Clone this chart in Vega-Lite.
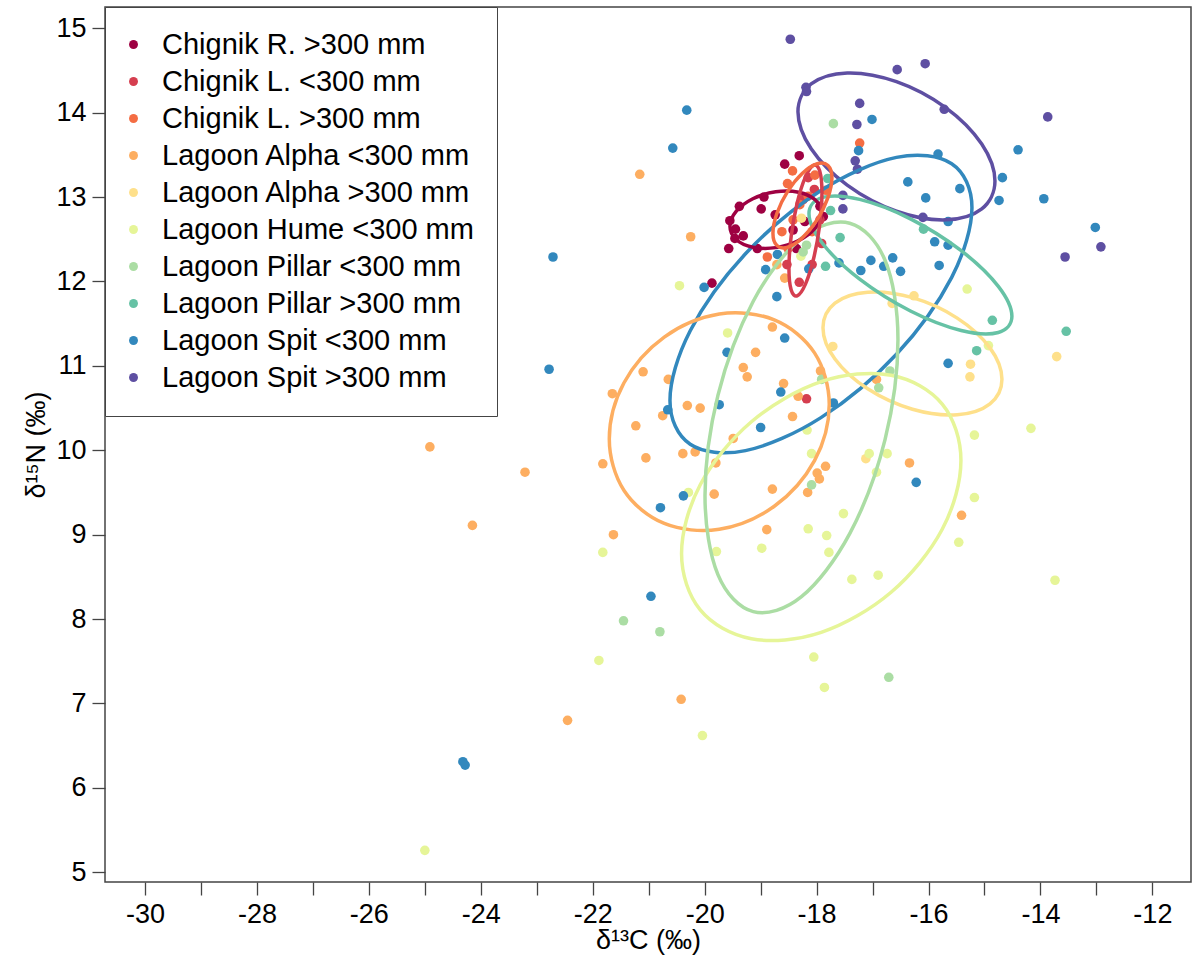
{
  "$schema": "https://vega.github.io/schema/vega-lite/v6.json",
  "autosize": "none",
  "width": 1086,
  "height": 875,
  "padding": {"left": 105, "top": 7, "right": 2, "bottom": 77},
  "background": "white",
  "config": {
    "view": {"stroke": "#444", "strokeWidth": 1.5},
    "font": "Liberation Sans",
    "axis": {"grid": false, "domain": false, "tickColor": "#444", "tickWidth": 1.3, "tickSize": 13, "labelFont": "Liberation Sans", "labelFontSize": 27, "labelColor": "black", "labelPadding": 6, "titleFont": "Liberation Sans", "titleFontSize": 27, "titleFontWeight": "normal", "titleColor": "black"},
    "legend": {"labelFont": "Liberation Sans", "labelFontSize": 29, "labelColor": "black"}
  },
  "datasets": {
    "pts": [
      {"g":"Chignik R. >300 mm","x":-18.31,"y":13.49},{"g":"Chignik R. >300 mm","x":-18.57,"y":13.39},{"g":"Chignik R. >300 mm","x":-18.94,"y":13.00},{"g":"Chignik R. >300 mm","x":-19.38,"y":12.89},{"g":"Chignik R. >300 mm","x":-18.99,"y":12.86},{"g":"Chignik R. >300 mm","x":-19.55,"y":12.72},{"g":"Chignik R. >300 mm","x":-19.45,"y":12.62},{"g":"Chignik R. >300 mm","x":-19.31,"y":12.54},{"g":"Chignik R. >300 mm","x":-19.46,"y":12.51},{"g":"Chignik R. >300 mm","x":-19.57,"y":12.39},{"g":"Chignik R. >300 mm","x":-19.06,"y":12.39},{"g":"Chignik R. >300 mm","x":-18.42,"y":12.61},{"g":"Chignik R. >300 mm","x":-18.36,"y":12.39},{"g":"Chignik R. >300 mm","x":-17.94,"y":12.89},{"g":"Chignik R. >300 mm","x":-17.88,"y":12.77},{"g":"Chignik R. >300 mm","x":-19.87,"y":11.98},{"g":"Chignik R. >300 mm","x":-18.74,"y":12.79},{"g":"Chignik R. >300 mm","x":-18.21,"y":12.71},
      {"g":"Chignik L. <300 mm","x":-18.04,"y":13.09},{"g":"Chignik L. <300 mm","x":-17.94,"y":12.73},{"g":"Chignik L. <300 mm","x":-17.91,"y":12.45},{"g":"Chignik L. <300 mm","x":-18.53,"y":12.20},{"g":"Chignik L. <300 mm","x":-18.18,"y":10.61},{"g":"Chignik L. <300 mm","x":-18.24,"y":12.97},{"g":"Chignik L. <300 mm","x":-18.08,"y":12.20},{"g":"Chignik L. <300 mm","x":-18.31,"y":11.99},{"g":"Chignik L. <300 mm","x":-18.15,"y":13.23},
      {"g":"Chignik L. >300 mm","x":-17.23,"y":13.64},{"g":"Chignik L. >300 mm","x":-18.43,"y":13.31},{"g":"Chignik L. >300 mm","x":-18.52,"y":13.16},{"g":"Chignik L. >300 mm","x":-18.03,"y":13.26},{"g":"Chignik L. >300 mm","x":-18.15,"y":13.01},{"g":"Chignik L. >300 mm","x":-18.42,"y":12.73},{"g":"Chignik L. >300 mm","x":-18.62,"y":12.59},{"g":"Chignik L. >300 mm","x":-18.51,"y":12.39},{"g":"Chignik L. >300 mm","x":-18.88,"y":12.29},{"g":"Chignik L. >300 mm","x":-17.83,"y":13.08},{"g":"Chignik L. >300 mm","x":-18.08,"y":12.59},{"g":"Chignik L. >300 mm","x":-18.30,"y":12.91},
      {"g":"Lagoon Alpha <300 mm","x":-21.16,"y":13.27},{"g":"Lagoon Alpha <300 mm","x":-20.25,"y":12.53},{"g":"Lagoon Alpha <300 mm","x":-18.71,"y":12.20},{"g":"Lagoon Alpha <300 mm","x":-18.57,"y":12.04},{"g":"Lagoon Alpha <300 mm","x":-18.79,"y":11.46},{"g":"Lagoon Alpha <300 mm","x":-19.09,"y":11.16},{"g":"Lagoon Alpha <300 mm","x":-19.31,"y":10.98},{"g":"Lagoon Alpha <300 mm","x":-19.24,"y":10.87},{"g":"Lagoon Alpha <300 mm","x":-21.10,"y":10.93},{"g":"Lagoon Alpha <300 mm","x":-20.65,"y":10.84},{"g":"Lagoon Alpha <300 mm","x":-21.65,"y":10.67},{"g":"Lagoon Alpha <300 mm","x":-18.59,"y":10.79},{"g":"Lagoon Alpha <300 mm","x":-18.33,"y":10.64},{"g":"Lagoon Alpha <300 mm","x":-17.93,"y":10.94},{"g":"Lagoon Alpha <300 mm","x":-16.93,"y":10.84},{"g":"Lagoon Alpha <300 mm","x":-20.31,"y":10.53},{"g":"Lagoon Alpha <300 mm","x":-20.08,"y":10.50},{"g":"Lagoon Alpha <300 mm","x":-20.75,"y":10.41},{"g":"Lagoon Alpha <300 mm","x":-21.23,"y":10.29},{"g":"Lagoon Alpha <300 mm","x":-18.43,"y":10.40},{"g":"Lagoon Alpha <300 mm","x":-19.49,"y":10.14},{"g":"Lagoon Alpha <300 mm","x":-21.05,"y":9.91},{"g":"Lagoon Alpha <300 mm","x":-20.39,"y":9.96},{"g":"Lagoon Alpha <300 mm","x":-20.17,"y":9.98},{"g":"Lagoon Alpha <300 mm","x":-21.82,"y":9.84},{"g":"Lagoon Alpha <300 mm","x":-19.80,"y":9.85},{"g":"Lagoon Alpha <300 mm","x":-16.34,"y":9.85},{"g":"Lagoon Alpha <300 mm","x":-17.84,"y":9.81},{"g":"Lagoon Alpha <300 mm","x":-17.99,"y":9.73},{"g":"Lagoon Alpha <300 mm","x":-17.95,"y":9.66},{"g":"Lagoon Alpha <300 mm","x":-18.16,"y":9.50},{"g":"Lagoon Alpha <300 mm","x":-18.79,"y":9.54},{"g":"Lagoon Alpha <300 mm","x":-19.83,"y":9.48},{"g":"Lagoon Alpha <300 mm","x":-18.89,"y":9.06},{"g":"Lagoon Alpha <300 mm","x":-15.41,"y":9.23},{"g":"Lagoon Alpha <300 mm","x":-21.63,"y":9.00},{"g":"Lagoon Alpha <300 mm","x":-24.91,"y":10.04},{"g":"Lagoon Alpha <300 mm","x":-23.21,"y":9.74},{"g":"Lagoon Alpha <300 mm","x":-24.15,"y":9.11},{"g":"Lagoon Alpha <300 mm","x":-20.42,"y":7.05},{"g":"Lagoon Alpha <300 mm","x":-22.45,"y":6.80},
      {"g":"Lagoon Alpha >300 mm","x":-17.71,"y":11.23},{"g":"Lagoon Alpha >300 mm","x":-15.25,"y":11.02},{"g":"Lagoon Alpha >300 mm","x":-15.26,"y":10.87},{"g":"Lagoon Alpha >300 mm","x":-13.71,"y":11.11},{"g":"Lagoon Alpha >300 mm","x":-17.12,"y":9.90},{"g":"Lagoon Alpha >300 mm","x":-18.27,"y":12.75},{"g":"Lagoon Alpha >300 mm","x":-16.65,"y":11.74},{"g":"Lagoon Alpha >300 mm","x":-16.26,"y":11.83},
      {"g":"Lagoon Hume <300 mm","x":-20.45,"y":11.95},{"g":"Lagoon Hume <300 mm","x":-19.59,"y":11.39},{"g":"Lagoon Hume <300 mm","x":-18.17,"y":10.24},{"g":"Lagoon Hume <300 mm","x":-18.09,"y":9.96},{"g":"Lagoon Hume <300 mm","x":-17.06,"y":9.96},{"g":"Lagoon Hume <300 mm","x":-16.74,"y":9.96},{"g":"Lagoon Hume <300 mm","x":-16.93,"y":9.74},{"g":"Lagoon Hume <300 mm","x":-15.18,"y":10.18},{"g":"Lagoon Hume <300 mm","x":-15.18,"y":9.44},{"g":"Lagoon Hume <300 mm","x":-15.31,"y":11.91},{"g":"Lagoon Hume <300 mm","x":-14.93,"y":11.24},{"g":"Lagoon Hume <300 mm","x":-14.17,"y":10.26},{"g":"Lagoon Hume <300 mm","x":-15.46,"y":8.91},{"g":"Lagoon Hume <300 mm","x":-13.74,"y":8.46},{"g":"Lagoon Hume <300 mm","x":-17.52,"y":9.25},{"g":"Lagoon Hume <300 mm","x":-18.15,"y":9.07},{"g":"Lagoon Hume <300 mm","x":-17.82,"y":8.99},{"g":"Lagoon Hume <300 mm","x":-17.78,"y":8.79},{"g":"Lagoon Hume <300 mm","x":-18.98,"y":8.84},{"g":"Lagoon Hume <300 mm","x":-19.79,"y":8.80},{"g":"Lagoon Hume <300 mm","x":-17.37,"y":8.47},{"g":"Lagoon Hume <300 mm","x":-16.90,"y":8.52},{"g":"Lagoon Hume <300 mm","x":-21.82,"y":8.79},{"g":"Lagoon Hume <300 mm","x":-21.89,"y":7.51},{"g":"Lagoon Hume <300 mm","x":-18.05,"y":7.55},{"g":"Lagoon Hume <300 mm","x":-17.86,"y":7.19},{"g":"Lagoon Hume <300 mm","x":-20.04,"y":6.62},{"g":"Lagoon Hume <300 mm","x":-25.00,"y":5.26},{"g":"Lagoon Hume <300 mm","x":-20.29,"y":9.50},{"g":"Lagoon Hume <300 mm","x":-18.28,"y":12.30},
      {"g":"Lagoon Pillar <300 mm","x":-17.70,"y":13.87},{"g":"Lagoon Pillar <300 mm","x":-17.91,"y":10.84},{"g":"Lagoon Pillar <300 mm","x":-16.89,"y":10.74},{"g":"Lagoon Pillar <300 mm","x":-16.69,"y":10.94},{"g":"Lagoon Pillar <300 mm","x":-18.09,"y":9.59},{"g":"Lagoon Pillar <300 mm","x":-21.45,"y":7.98},{"g":"Lagoon Pillar <300 mm","x":-20.80,"y":7.85},{"g":"Lagoon Pillar <300 mm","x":-16.71,"y":7.31},{"g":"Lagoon Pillar <300 mm","x":-18.18,"y":12.43},{"g":"Lagoon Pillar <300 mm","x":-18.24,"y":12.35},
      {"g":"Lagoon Pillar >300 mm","x":-17.75,"y":12.84},{"g":"Lagoon Pillar >300 mm","x":-17.58,"y":12.52},{"g":"Lagoon Pillar >300 mm","x":-17.84,"y":12.18},{"g":"Lagoon Pillar >300 mm","x":-16.09,"y":12.62},{"g":"Lagoon Pillar >300 mm","x":-14.86,"y":11.54},{"g":"Lagoon Pillar >300 mm","x":-13.54,"y":11.41},{"g":"Lagoon Pillar >300 mm","x":-15.14,"y":11.18},{"g":"Lagoon Pillar >300 mm","x":-17.80,"y":13.22},
      {"g":"Lagoon Spit <300 mm","x":-20.32,"y":14.03},{"g":"Lagoon Spit <300 mm","x":-17.01,"y":13.92},{"g":"Lagoon Spit <300 mm","x":-20.57,"y":13.58},{"g":"Lagoon Spit <300 mm","x":-17.25,"y":13.55},{"g":"Lagoon Spit <300 mm","x":-15.83,"y":13.51},{"g":"Lagoon Spit <300 mm","x":-14.40,"y":13.56},{"g":"Lagoon Spit <300 mm","x":-16.37,"y":13.18},{"g":"Lagoon Spit <300 mm","x":-14.68,"y":13.23},{"g":"Lagoon Spit <300 mm","x":-15.44,"y":13.10},{"g":"Lagoon Spit <300 mm","x":-16.05,"y":12.99},{"g":"Lagoon Spit <300 mm","x":-14.74,"y":12.96},{"g":"Lagoon Spit <300 mm","x":-13.94,"y":12.98},{"g":"Lagoon Spit <300 mm","x":-15.65,"y":12.71},{"g":"Lagoon Spit <300 mm","x":-15.89,"y":12.47},{"g":"Lagoon Spit <300 mm","x":-15.65,"y":12.43},{"g":"Lagoon Spit <300 mm","x":-15.81,"y":12.19},{"g":"Lagoon Spit <300 mm","x":-13.02,"y":12.64},{"g":"Lagoon Spit <300 mm","x":-17.03,"y":12.25},{"g":"Lagoon Spit <300 mm","x":-16.80,"y":12.18},{"g":"Lagoon Spit <300 mm","x":-16.64,"y":12.28},{"g":"Lagoon Spit <300 mm","x":-17.21,"y":12.13},{"g":"Lagoon Spit <300 mm","x":-16.50,"y":12.12},{"g":"Lagoon Spit <300 mm","x":-17.60,"y":12.22},{"g":"Lagoon Spit <300 mm","x":-18.14,"y":12.15},{"g":"Lagoon Spit <300 mm","x":-18.70,"y":12.32},{"g":"Lagoon Spit <300 mm","x":-18.91,"y":12.14},{"g":"Lagoon Spit <300 mm","x":-18.71,"y":11.82},{"g":"Lagoon Spit <300 mm","x":-20.01,"y":11.93},{"g":"Lagoon Spit <300 mm","x":-22.71,"y":12.29},{"g":"Lagoon Spit <300 mm","x":-22.78,"y":10.96},{"g":"Lagoon Spit <300 mm","x":-18.57,"y":11.33},{"g":"Lagoon Spit <300 mm","x":-19.60,"y":11.16},{"g":"Lagoon Spit <300 mm","x":-18.64,"y":10.69},{"g":"Lagoon Spit <300 mm","x":-17.70,"y":10.56},{"g":"Lagoon Spit <300 mm","x":-20.66,"y":10.48},{"g":"Lagoon Spit <300 mm","x":-19.74,"y":10.54},{"g":"Lagoon Spit <300 mm","x":-19.00,"y":10.27},{"g":"Lagoon Spit <300 mm","x":-15.65,"y":11.03},{"g":"Lagoon Spit <300 mm","x":-16.22,"y":9.62},{"g":"Lagoon Spit <300 mm","x":-20.38,"y":9.46},{"g":"Lagoon Spit <300 mm","x":-20.79,"y":9.32},{"g":"Lagoon Spit <300 mm","x":-20.96,"y":8.27},{"g":"Lagoon Spit <300 mm","x":-24.32,"y":6.31},{"g":"Lagoon Spit <300 mm","x":-24.28,"y":6.27},
      {"g":"Lagoon Spit >300 mm","x":-18.47,"y":14.87},{"g":"Lagoon Spit >300 mm","x":-16.56,"y":14.51},{"g":"Lagoon Spit >300 mm","x":-16.06,"y":14.58},{"g":"Lagoon Spit >300 mm","x":-18.19,"y":14.30},{"g":"Lagoon Spit >300 mm","x":-18.18,"y":14.25},{"g":"Lagoon Spit >300 mm","x":-17.23,"y":14.11},{"g":"Lagoon Spit >300 mm","x":-15.72,"y":14.04},{"g":"Lagoon Spit >300 mm","x":-17.28,"y":13.86},{"g":"Lagoon Spit >300 mm","x":-17.31,"y":13.43},{"g":"Lagoon Spit >300 mm","x":-17.27,"y":13.33},{"g":"Lagoon Spit >300 mm","x":-13.87,"y":13.95},{"g":"Lagoon Spit >300 mm","x":-17.53,"y":13.02},{"g":"Lagoon Spit >300 mm","x":-17.53,"y":12.86},{"g":"Lagoon Spit >300 mm","x":-16.10,"y":12.76},{"g":"Lagoon Spit >300 mm","x":-12.92,"y":12.41},{"g":"Lagoon Spit >300 mm","x":-13.56,"y":12.29}
    ],
    "ell": [
      {"g":"Lagoon Spit >300 mm","i":0,"x":-14.813,"y":13.189},{"g":"Lagoon Spit >300 mm","i":1,"x":-15.049,"y":13.628},{"g":"Lagoon Spit >300 mm","i":2,"x":-15.693,"y":14.060},{"g":"Lagoon Spit >300 mm","i":3,"x":-16.573,"y":14.368},{"g":"Lagoon Spit >300 mm","i":4,"x":-17.453,"y":14.471},{"g":"Lagoon Spit >300 mm","i":5,"x":-18.097,"y":14.340},{"g":"Lagoon Spit >300 mm","i":6,"x":-18.333,"y":14.011},{"g":"Lagoon Spit >300 mm","i":7,"x":-18.097,"y":13.572},{"g":"Lagoon Spit >300 mm","i":8,"x":-17.453,"y":13.141},{"g":"Lagoon Spit >300 mm","i":9,"x":-16.573,"y":12.832},{"g":"Lagoon Spit >300 mm","i":10,"x":-15.693,"y":12.730},{"g":"Lagoon Spit >300 mm","i":11,"x":-15.049,"y":12.860},
      {"g":"Lagoon Spit <300 mm","i":0,"x":-15.224,"y":12.875},{"g":"Lagoon Spit <300 mm","i":1,"x":-15.586,"y":13.395},{"g":"Lagoon Spit <300 mm","i":2,"x":-16.573,"y":13.470},{"g":"Lagoon Spit <300 mm","i":3,"x":-17.922,"y":13.079},{"g":"Lagoon Spit <300 mm","i":4,"x":-19.271,"y":12.328},{"g":"Lagoon Spit <300 mm","i":5,"x":-20.258,"y":11.417},{"g":"Lagoon Spit <300 mm","i":6,"x":-20.620,"y":10.591},{"g":"Lagoon Spit <300 mm","i":7,"x":-20.258,"y":10.071},{"g":"Lagoon Spit <300 mm","i":8,"x":-19.271,"y":9.996},{"g":"Lagoon Spit <300 mm","i":9,"x":-17.922,"y":10.387},{"g":"Lagoon Spit <300 mm","i":10,"x":-16.573,"y":11.138},{"g":"Lagoon Spit <300 mm","i":11,"x":-15.586,"y":12.049},
      {"g":"Lagoon Alpha <300 mm","i":0,"x":-17.774,"y":10.543},{"g":"Lagoon Alpha <300 mm","i":1,"x":-18.037,"y":11.154},{"g":"Lagoon Alpha <300 mm","i":2,"x":-18.756,"y":11.545},{"g":"Lagoon Alpha <300 mm","i":3,"x":-19.739,"y":11.614},{"g":"Lagoon Alpha <300 mm","i":4,"x":-20.722,"y":11.341},{"g":"Lagoon Alpha <300 mm","i":5,"x":-21.441,"y":10.800},{"g":"Lagoon Alpha <300 mm","i":6,"x":-21.704,"y":10.135},{"g":"Lagoon Alpha <300 mm","i":7,"x":-21.441,"y":9.524},{"g":"Lagoon Alpha <300 mm","i":8,"x":-20.722,"y":9.133},{"g":"Lagoon Alpha <300 mm","i":9,"x":-19.739,"y":9.064},{"g":"Lagoon Alpha <300 mm","i":10,"x":-18.756,"y":9.337},{"g":"Lagoon Alpha <300 mm","i":11,"x":-18.037,"y":9.878},
      {"g":"Lagoon Alpha >300 mm","i":0,"x":-14.688,"y":10.841},{"g":"Lagoon Alpha >300 mm","i":1,"x":-14.902,"y":11.213},{"g":"Lagoon Alpha >300 mm","i":2,"x":-15.487,"y":11.566},{"g":"Lagoon Alpha >300 mm","i":3,"x":-16.287,"y":11.808},{"g":"Lagoon Alpha >300 mm","i":4,"x":-17.087,"y":11.872},{"g":"Lagoon Alpha >300 mm","i":5,"x":-17.672,"y":11.743},{"g":"Lagoon Alpha >300 mm","i":6,"x":-17.886,"y":11.453},{"g":"Lagoon Alpha >300 mm","i":7,"x":-17.672,"y":11.081},{"g":"Lagoon Alpha >300 mm","i":8,"x":-17.087,"y":10.728},{"g":"Lagoon Alpha >300 mm","i":9,"x":-16.287,"y":10.486},{"g":"Lagoon Alpha >300 mm","i":10,"x":-15.487,"y":10.422},{"g":"Lagoon Alpha >300 mm","i":11,"x":-14.902,"y":10.551},
      {"g":"Lagoon Hume <300 mm","i":0,"x":-15.421,"y":9.880},{"g":"Lagoon Hume <300 mm","i":1,"x":-15.755,"y":10.548},{"g":"Lagoon Hume <300 mm","i":2,"x":-16.669,"y":10.890},{"g":"Lagoon Hume <300 mm","i":3,"x":-17.917,"y":10.813},{"g":"Lagoon Hume <300 mm","i":4,"x":-19.165,"y":10.338},{"g":"Lagoon Hume <300 mm","i":5,"x":-20.079,"y":9.592},{"g":"Lagoon Hume <300 mm","i":6,"x":-20.413,"y":8.776},{"g":"Lagoon Hume <300 mm","i":7,"x":-20.079,"y":8.108},{"g":"Lagoon Hume <300 mm","i":8,"x":-19.165,"y":7.766},{"g":"Lagoon Hume <300 mm","i":9,"x":-17.917,"y":7.843},{"g":"Lagoon Hume <300 mm","i":10,"x":-16.669,"y":8.318},{"g":"Lagoon Hume <300 mm","i":11,"x":-15.755,"y":9.064},
      {"g":"Lagoon Pillar <300 mm","i":0,"x":-16.546,"y":11.313},{"g":"Lagoon Pillar <300 mm","i":1,"x":-16.777,"y":12.251},{"g":"Lagoon Pillar <300 mm","i":2,"x":-17.408,"y":12.690},{"g":"Lagoon Pillar <300 mm","i":3,"x":-18.270,"y":12.513},{"g":"Lagoon Pillar <300 mm","i":4,"x":-19.132,"y":11.766},{"g":"Lagoon Pillar <300 mm","i":5,"x":-19.763,"y":10.651},{"g":"Lagoon Pillar <300 mm","i":6,"x":-19.994,"y":9.465},{"g":"Lagoon Pillar <300 mm","i":7,"x":-19.763,"y":8.527},{"g":"Lagoon Pillar <300 mm","i":8,"x":-19.132,"y":8.088},{"g":"Lagoon Pillar <300 mm","i":9,"x":-18.270,"y":8.265},{"g":"Lagoon Pillar <300 mm","i":10,"x":-17.408,"y":9.012},{"g":"Lagoon Pillar <300 mm","i":11,"x":-16.777,"y":10.127},
      {"g":"Lagoon Pillar >300 mm","i":0,"x":-14.510,"y":11.588},{"g":"Lagoon Pillar >300 mm","i":1,"x":-14.753,"y":11.942},{"g":"Lagoon Pillar >300 mm","i":2,"x":-15.416,"y":12.365},{"g":"Lagoon Pillar >300 mm","i":3,"x":-16.323,"y":12.742},{"g":"Lagoon Pillar >300 mm","i":4,"x":-17.230,"y":12.973},{"g":"Lagoon Pillar >300 mm","i":5,"x":-17.893,"y":12.996},{"g":"Lagoon Pillar >300 mm","i":6,"x":-18.136,"y":12.804},{"g":"Lagoon Pillar >300 mm","i":7,"x":-17.893,"y":12.450},{"g":"Lagoon Pillar >300 mm","i":8,"x":-17.230,"y":12.027},{"g":"Lagoon Pillar >300 mm","i":9,"x":-16.323,"y":11.650},{"g":"Lagoon Pillar >300 mm","i":10,"x":-15.416,"y":11.419},{"g":"Lagoon Pillar >300 mm","i":11,"x":-14.753,"y":11.396},
      {"g":"Chignik R. >300 mm","i":0,"x":-17.912,"y":12.810},{"g":"Chignik R. >300 mm","i":1,"x":-18.022,"y":12.966},{"g":"Chignik R. >300 mm","i":2,"x":-18.321,"y":13.058},{"g":"Chignik R. >300 mm","i":3,"x":-18.730,"y":13.063},{"g":"Chignik R. >300 mm","i":4,"x":-19.139,"y":12.980},{"g":"Chignik R. >300 mm","i":5,"x":-19.438,"y":12.830},{"g":"Chignik R. >300 mm","i":6,"x":-19.548,"y":12.654},{"g":"Chignik R. >300 mm","i":7,"x":-19.438,"y":12.498},{"g":"Chignik R. >300 mm","i":8,"x":-19.139,"y":12.406},{"g":"Chignik R. >300 mm","i":9,"x":-18.730,"y":12.401},{"g":"Chignik R. >300 mm","i":10,"x":-18.321,"y":12.484},{"g":"Chignik R. >300 mm","i":11,"x":-18.022,"y":12.634},
      {"g":"Chignik L. <300 mm","i":0,"x":-17.904,"y":13.051},{"g":"Chignik L. <300 mm","i":1,"x":-17.944,"y":13.309},{"g":"Chignik L. <300 mm","i":2,"x":-18.051,"y":13.378},{"g":"Chignik L. <300 mm","i":3,"x":-18.199,"y":13.239},{"g":"Chignik L. <300 mm","i":4,"x":-18.347,"y":12.930},{"g":"Chignik L. <300 mm","i":5,"x":-18.454,"y":12.535},{"g":"Chignik L. <300 mm","i":6,"x":-18.494,"y":12.157},{"g":"Chignik L. <300 mm","i":7,"x":-18.454,"y":11.899},{"g":"Chignik L. <300 mm","i":8,"x":-18.347,"y":11.830},{"g":"Chignik L. <300 mm","i":9,"x":-18.199,"y":11.969},{"g":"Chignik L. <300 mm","i":10,"x":-18.051,"y":12.278},{"g":"Chignik L. <300 mm","i":11,"x":-17.944,"y":12.673},
      {"g":"Chignik L. >300 mm","i":0,"x":-17.726,"y":13.228},{"g":"Chignik L. >300 mm","i":1,"x":-17.797,"y":13.375},{"g":"Chignik L. >300 mm","i":2,"x":-17.989,"y":13.395},{"g":"Chignik L. >300 mm","i":3,"x":-18.253,"y":13.282},{"g":"Chignik L. >300 mm","i":4,"x":-18.517,"y":13.067},{"g":"Chignik L. >300 mm","i":5,"x":-18.709,"y":12.807},{"g":"Chignik L. >300 mm","i":6,"x":-18.780,"y":12.572},{"g":"Chignik L. >300 mm","i":7,"x":-18.709,"y":12.425},{"g":"Chignik L. >300 mm","i":8,"x":-18.517,"y":12.405},{"g":"Chignik L. >300 mm","i":9,"x":-18.253,"y":12.518},{"g":"Chignik L. >300 mm","i":10,"x":-17.989,"y":12.733},{"g":"Chignik L. >300 mm","i":11,"x":-17.797,"y":12.993}
    ]
  },
  "layer": [
    {
      "data": {"name": "pts"},
      "mark": {"type": "circle", "size": 92, "opacity": 1},
      "encoding": {
        "x": {"field": "x", "type": "quantitative", "scale": {"domain": [-30.715, -11.31], "nice": false, "zero": false},
          "axis": {"title": "δ¹³C (‰)", "values": [-30,-29,-28,-27,-26,-25,-24,-23,-22,-21,-20,-19,-18,-17,-16,-15,-14,-13,-12], "labelExpr": "datum.value % 2 === 0 ? '' + datum.value : ''", "labelOverlap": false, "titlePadding": 0}},
        "y": {"field": "y", "type": "quantitative", "scale": {"domain": [4.885, 15.252], "nice": false, "zero": false},
          "axis": {"title": "δ¹⁵N (‰)", "values": [5,6,7,8,9,10,11,12,13,14,15], "labelExpr": "'' + datum.value", "labelOverlap": false, "titlePadding": 5}},
        "color": {"field": "g", "type": "nominal",
          "scale": {"domain": ["Chignik R. >300 mm","Chignik L. <300 mm","Chignik L. >300 mm","Lagoon Alpha <300 mm","Lagoon Alpha >300 mm","Lagoon Hume <300 mm","Lagoon Pillar <300 mm","Lagoon Pillar >300 mm","Lagoon Spit <300 mm","Lagoon Spit >300 mm"],
                    "range": ["#9E0142","#D53E4F","#F46D43","#FDAE61","#FEE08B","#E6F598","#ABDDA4","#66C2A5","#3288BD","#5E4FA2"]},
          "legend": {"title": null, "orient": "top-left", "offset": 0, "padding": 23, "strokeColor": "#444", "fillColor": "white", "symbolType": "circle", "symbolSize": 80, "symbolStrokeWidth": 0, "symbolOffset": -9, "labelOffset": 14, "rowPadding": 7, "labelLimit": 600, "labelExpr": "datum.label + '\u00a0\u00a0'"}}
      }
    },
    {
      "data": {"name": "ell"},
      "mark": {"type": "line", "interpolate": "cardinal-closed", "strokeWidth": 3.5},
      "encoding": {
        "x": {"field": "x", "type": "quantitative"},
        "y": {"field": "y", "type": "quantitative"},
        "detail": {"field": "g", "type": "nominal"},
        "order": {"field": "i", "type": "quantitative"},
        "color": {"field": "g", "type": "nominal", "legend": null}
      }
    }
  ]
}
